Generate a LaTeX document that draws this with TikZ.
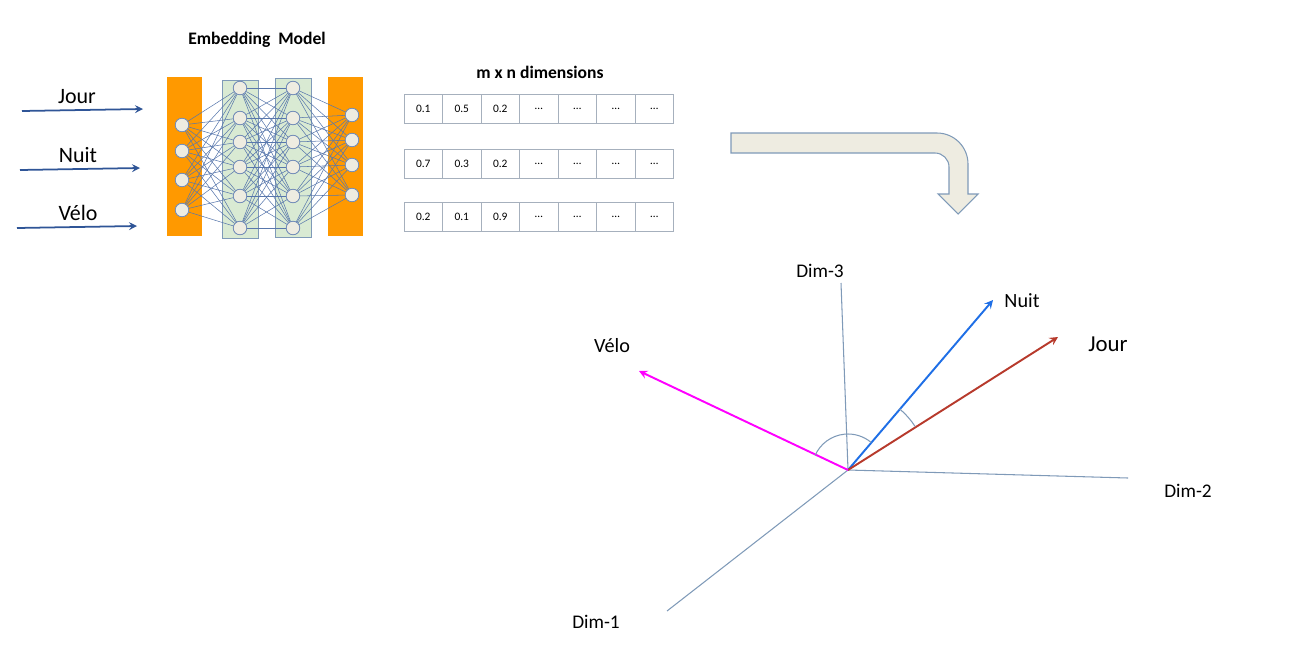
\documentclass[tikz,border=0pt]{standalone}
\usepackage{fontspec}
\setmainfont{Carlito}
\usetikzlibrary{positioning}
\definecolor{inkblue}{HTML}{2F5597}
\definecolor{netorange}{HTML}{FF9900}
\definecolor{netgreen}{HTML}{D9EAD3}
\definecolor{cellgray}{HTML}{A6B0BD}
\definecolor{axisblue}{HTML}{7F9AB8}
\definecolor{nuitblue}{HTML}{1F6FE6}
\definecolor{jourred}{HTML}{B73A2C}
\definecolor{velopink}{HTML}{FF00FF}
\definecolor{bentfill}{HTML}{EEECE1}
\tikzset{
	neuron/.style={circle,draw=inkblue!70,fill=bentfill,minimum size=13.5pt*0.567,inner sep=0pt},
	wire/.style={inkblue!80,line width=0.3pt},
	cell/.style={draw=cellgray,minimum width=38.5*0.567pt,minimum height=29*0.567pt,inner sep=0pt,font=\fontsize{6.5}{7}\selectfont},
	axis/.style={axisblue,line width=0.6pt},
	vec/.style={line width=1.1pt,-stealth}
}
\begin{document}
\begin{tikzpicture}[x=0.02cm,y=-0.02cm]
	\useasboundingbox (0,0) rectangle (1314,646);
	% inputs
	\node[font=\fontsize{12.5}{14}\selectfont] (jourin) at (77,97) {Jour};
	\node[font=\fontsize{12.5}{14}\selectfont] (nuitin) at (78,155) {Nuit};
	\node[font=\fontsize{12.5}{14}\selectfont] (veloin) at (78,213) {Vélo};
	\coordinate (j0) at (22,111); \coordinate (j1) at (143,109);
	\coordinate (n0) at (20,170); \coordinate (n1) at (140,168);
	\coordinate (v0) at (17,228); \coordinate (v1) at (137,226);
	\draw[inkblue,line width=1pt,-stealth] (j0) -- (j1);
	\draw[inkblue,line width=1pt,-stealth] (n0) -- (n1);
	\draw[inkblue,line width=1pt,-stealth] (v0) -- (v1);
	% network
	\node[font=\bfseries\fontsize{10}{11}\selectfont] (title) at (257,40) {Embedding\ \ Model};
	\fill[netorange] (167,77) rectangle (202,236);
	\fill[netorange] (328,77) rectangle (363,236);
	\draw[axisblue,fill=netgreen] (222,80) rectangle (258,238);
	\draw[axisblue,fill=netgreen] (275,78) rectangle (311,237);
	\foreach \y [count=\i] in {125,151,180,210} \node[neuron] (a\i) at (182,\y) {};
	\foreach \y [count=\i] in {88,118,142,167,196,228} \node[neuron] (b\i) at (240,\y) {};
	\foreach \y [count=\i] in {88,118,142,167,196,228} \node[neuron] (c\i) at (293,\y) {};
	\foreach \y [count=\i] in {115,140,165,195} \node[neuron] (d\i) at (352,\y) {};
	\foreach \i in {1,...,4} \foreach \k in {1,...,6} \draw[wire] (a\i) -- (b\k);
	\foreach \i in {1,...,6} \foreach \k in {1,...,6} \draw[wire] (b\i) -- (c\k);
	\foreach \i in {1,...,6} \foreach \k in {1,...,4} \draw[wire] (c\i) -- (d\k);
	\foreach \i in {1,...,4} \node[neuron] at (a\i) {};
	\foreach \i in {1,...,6} \node[neuron] at (b\i) {};
	\foreach \i in {1,...,6} \node[neuron] at (c\i) {};
	\foreach \i in {1,...,4} \node[neuron] at (d\i) {};
	% table
	\node[font=\bfseries\fontsize{10}{11}\selectfont] (dims) at (540,72) {m x n dimensions};
	\foreach \row/\y in {{0.1,0.5,0.2}/108.5,{0.7,0.3,0.2}/163.5,{0.2,0.1,0.9}/217} {
		\foreach \v [count=\c] in \row \node[cell] at ({404+38.5*(\c-0.5)},\y) {\v};
		\foreach \c in {4,...,7} \node[cell] at ({404+38.5*(\c-0.5)},\y) {\dots};
	}
	% bent arrow
	\draw[axisblue,fill=bentfill,line width=0.6pt] (731,133) -- (937,133)
		arc[start angle=270,end angle=360,radius=31] -- (968,194) -- (978,194)
		-- (958,214) -- (938,194) -- (949,194) -- (949,167)
		arc[start angle=0,end angle=-90,radius=14] -- (731,153) -- cycle;
	% axes
	\coordinate (o) at (848,470);
	\coordinate (x3) at (841,283);
	\coordinate (x2) at (1128,478);
	\coordinate (x1) at (667,611);
	\draw[axis] (o) -- (x3);
	\draw[axis] (o) -- (x2);
	\draw[axis] (o) -- (x1);
	\node[font=\fontsize{11}{13}\selectfont] (dim3) at (820,271) {Dim-3};
	\node[font=\fontsize{11}{13}\selectfont] (dim2) at (1188,491) {Dim-2};
	\node[font=\fontsize{11}{13}\selectfont] (dim1) at (596,622) {Dim-1};
	% vectors
	\coordinate (nuit) at (993,300);
	\coordinate (jour) at (1058,337);
	\coordinate (velo) at (639,371);
	\draw[vec,nuitblue] (o) -- (nuit);
	\draw[vec,jourred] (o) -- (jour);
	\draw[vec,velopink] (o) -- (velo);
	\node[font=\fontsize{11.5}{13}\selectfont] (nuitlbl) at (1022,301) {Nuit};
	\node[font=\fontsize{13}{15}\selectfont] (jourlbl) at (1108,344) {Jour};
	\node[font=\fontsize{11.5}{13}\selectfont] (velolbl) at (612,346) {Vélo};
	\draw[axis] (o) ++(204:36) arc[start angle=204,end angle=310,radius=36];
	\draw[axis] (o) ++(-50:80) arc[start angle=-50,end angle=-33,radius=80];
\end{tikzpicture}
\end{document}
